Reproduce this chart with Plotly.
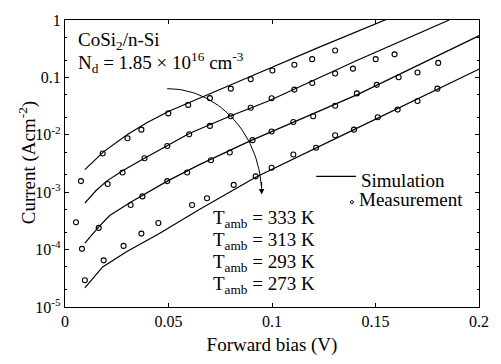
import numpy as np
import plotly.graph_objects as go

# ---------------- data ----------------
meas_333_v = [0.0077, 0.0182, 0.0302, 0.0369, 0.0499, 0.0595, 0.0700, 0.0801, 0.0897, 0.1002, 0.1108, 0.1194, 0.1305]
meas_333_i = [1.56e-3, 4.72e-3, 8.7e-3, 1.23e-2, 2.36e-2, 3.32e-2, 4.35e-2, 6.37e-2, 9.33e-2, 0.132, 0.166, 0.208, 0.294]

meas_313_v = [0.0053, 0.0206, 0.0278, 0.0384, 0.0494, 0.0600, 0.0700, 0.0801, 0.0897, 0.0998, 0.1108, 0.1194, 0.1305, 0.1391, 0.1501, 0.1592]
meas_313_i = [3.0e-4, 1.39e-3, 2.2e-3, 3.9e-3, 6.4e-3, 1.02e-2, 1.43e-2, 2.1e-2, 2.96e-2, 4.34e-2, 6.13e-2, 8.0e-2, 0.117, 0.142, 0.208, 0.252]

meas_293_v = [0.0082, 0.0163, 0.0317, 0.0374, 0.0494, 0.0590, 0.0705, 0.0796, 0.0906, 0.0998, 0.1103, 0.1199, 0.1305, 0.1410, 0.1506, 0.1612, 0.1703, 0.1803]
meas_293_i = [1.03e-4, 2.39e-4, 5.99e-4, 8.45e-4, 1.56e-3, 2.2e-3, 3.61e-3, 4.91e-3, 8.07e-3, 1.14e-2, 1.67e-2, 2.1e-2, 3.2e-2, 5.26e-2, 7.42e-2, 0.1007, 0.122, 0.179]

meas_273_v = [0.0096, 0.0187, 0.0283, 0.0369, 0.0451, 0.0614, 0.0686, 0.0815, 0.0921, 0.0998, 0.1103, 0.1213, 0.1305, 0.1396, 0.1511, 0.1607, 0.1703, 0.1799]
meas_273_i = [2.92e-5, 6.5e-5, 1.16e-4, 1.9e-4, 2.9e-4, 5.99e-4, 7.83e-4, 1.34e-3, 1.89e-3, 2.66e-3, 4.55e-3, 5.94e-3, 9.8e-3, 1.23e-2, 2.02e-2, 2.75e-2, 3.87e-2, 6.37e-2]

sim_333_v = [0.0096, 0.0144, 0.0187, 0.0302, 0.0393, 0.0499, 0.0700, 0.0887, 0.1223, 0.1568]
sim_333_i = [2.47e-3, 3.61e-3, 5.10e-3, 1.016e-2, 1.607e-2, 2.54e-2, 5.26e-2, 0.1007, 0.33, 1.08]

sim_313_v = [0.0096, 0.0149, 0.0201, 0.0278, 0.0384, 0.0600, 0.0796, 0.0983, 0.1415, 0.1856]
sim_313_i = [6.47e-4, 1.06e-3, 1.56e-3, 2.37e-3, 3.90e-3, 1.055e-2, 2.10e-2, 3.87e-2, 0.2005, 1.0]

sim_293_v = [0.0096, 0.0163, 0.0216, 0.0317, 0.0494, 0.0647, 0.0892, 0.1271, 0.1415, 0.2005]
sim_293_i = [1.30e-4, 2.48e-4, 3.93e-4, 6.71e-4, 1.56e-3, 2.99e-3, 7.77e-3, 2.96e-2, 5.06e-2, 0.542]

sim_273_v = [0.0096, 0.0182, 0.0297, 0.0456, 0.0647, 0.0921, 0.1396, 0.2005]
sim_273_i = [2.15e-5, 4.99e-5, 9.19e-5, 1.90e-4, 4.94e-4, 1.82e-3, 1.23e-2, 0.142]

temps = ["333", "313", "293", "273"]
x_ticks = [0, 0.05, 0.1, 0.15, 0.2]
x_ticktext = ["0", "0.05", "0.1", "0.15", "0.2"]
y_tickvals = [1e-5, 1e-4, 1e-3, 1e-2, 0.1, 1]
y_ticktext = ["10<sup>-5</sup>", "10<sup>-4</sup>", "10<sup>-3</sup>", "10<sup>-2</sup>", "0.1", "1"]

# ---------------- layout helpers ----------------
W, H = 501, 364
ML, MR, MT, MB = 65, 19, 12, 51
PW, PH = W - ML - MR, H - MT - MB
FONT = "Liberation Serif"


def pxx(x):
    return (x - ML) / PW


def pxy(y):
    return (MT + PH - y) / PH


fig = go.Figure()

sims = [(sim_333_v, sim_333_i), (sim_313_v, sim_313_i), (sim_293_v, sim_293_i), (sim_273_v, sim_273_i)]
meas = [(meas_333_v, meas_333_i), (meas_313_v, meas_313_i), (meas_293_v, meas_293_i), (meas_273_v, meas_273_i)]

for v, i in sims:
    fig.add_trace(go.Scatter(x=v, y=i, mode="lines", line=dict(color="black", width=1.2),
                             showlegend=False, hoverinfo="skip"))
for v, i in meas:
    fig.add_trace(go.Scatter(x=v, y=i, mode="markers",
                             marker=dict(symbol="circle-open", size=5, color="black", line=dict(width=1.1)),
                             showlegend=False))

# curved arrow (quarter ellipse in log space)
cx, cy = 0.0494, -3.04
rx, ry = 0.0456, 1.844
t = np.linspace(np.pi / 2, 0.08, 40)
fig.add_trace(go.Scatter(x=cx + rx * np.cos(t), y=10 ** (cy + ry * np.sin(t)), mode="lines",
                         line=dict(color="black", width=1), showlegend=False, hoverinfo="skip"))
fig.add_annotation(x=cx + rx, y=cy, xref="x", yref="y", ax=0, ay=-14, axref="pixel", ayref="pixel",
                   showarrow=True, arrowhead=2, arrowsize=1.1, arrowwidth=1, arrowcolor="black", text="")

ann_font = dict(family=FONT, size=19, color="black")
fig.add_annotation(x=pxx(76), y=pxy(34), xref="paper", yref="paper", xanchor="left", yanchor="middle",
                   text="CoSi<sub>2</sub>/n-Si", showarrow=False, font=ann_font)
fig.add_annotation(x=pxx(76), y=pxy(57), xref="paper", yref="paper", xanchor="left", yanchor="middle",
                   text="N<sub>d</sub> = 1.85 × 10<sup>16</sup> cm<sup>-3</sup>", showarrow=False, font=ann_font)

for k, T in enumerate(temps):
    fig.add_annotation(x=pxx(212), y=pxy(221 + 23 * k), xref="paper", yref="paper", xanchor="left",
                       yanchor="middle", text=f"T<sub>amb</sub> = {T} K", showarrow=False, font=ann_font)

# legend (custom)
fig.add_shape(type="line", xref="paper", yref="paper", x0=pxx(318), x1=pxx(358), y0=pxy(176), y1=pxy(176),
              line=dict(color="black", width=1.2))
fig.add_annotation(x=pxx(361), y=pxy(180), xref="paper", yref="paper", xanchor="left", yanchor="middle",
                   text="Simulation", showarrow=False, font=ann_font)
fig.add_shape(type="circle", xref="paper", yref="paper", x0=pxx(352.5), x1=pxx(355.5), y0=pxy(201.5),
              y1=pxy(204.5), line=dict(color="black", width=1))
fig.add_annotation(x=pxx(359), y=pxy(200), xref="paper", yref="paper", xanchor="left", yanchor="middle",
                   text="Measurement", showarrow=False, font=ann_font)

# y-axis title placed as rotated text
fig.add_annotation(x=pxx(27), y=pxy(162), xref="paper", yref="paper", xanchor="center", yanchor="middle",
                   text="Current (Acm<sup>-2</sup>)", textangle=-90, showarrow=False, font=ann_font)

fig.update_layout(
    width=W, height=H, margin=dict(l=ML, r=MR, t=MT, b=MB),
    paper_bgcolor="white", plot_bgcolor="white",
    font=dict(family=FONT, color="black"),
    showlegend=False,
)
fig.update_xaxes(range=[0, 0.2], tickvals=x_ticks, ticktext=x_ticktext,
                 ticks="inside", ticklen=4, tickcolor="black", showline=True, linecolor="black", linewidth=1.3,
                 mirror="ticks", showgrid=False, zeroline=False,
                 tickfont=dict(family=FONT, size=16, color="black"),
                 title=dict(text="Forward bias (V)", font=dict(family=FONT, size=19, color="black"), standoff=8))
fig.update_yaxes(type="log", range=[-5, 0], tickvals=y_tickvals, ticktext=y_ticktext,
                 ticks="inside", ticklen=4, tickcolor="black", showline=True, linecolor="black", linewidth=1.3,
                 mirror="ticks", showgrid=False, zeroline=False,
                 minor=dict(dtick="D2", ticks="inside", ticklen=2, tickcolor="black", showgrid=False),
                 tickfont=dict(family=FONT, size=16, color="black"))

fig.write_html("out.html")
